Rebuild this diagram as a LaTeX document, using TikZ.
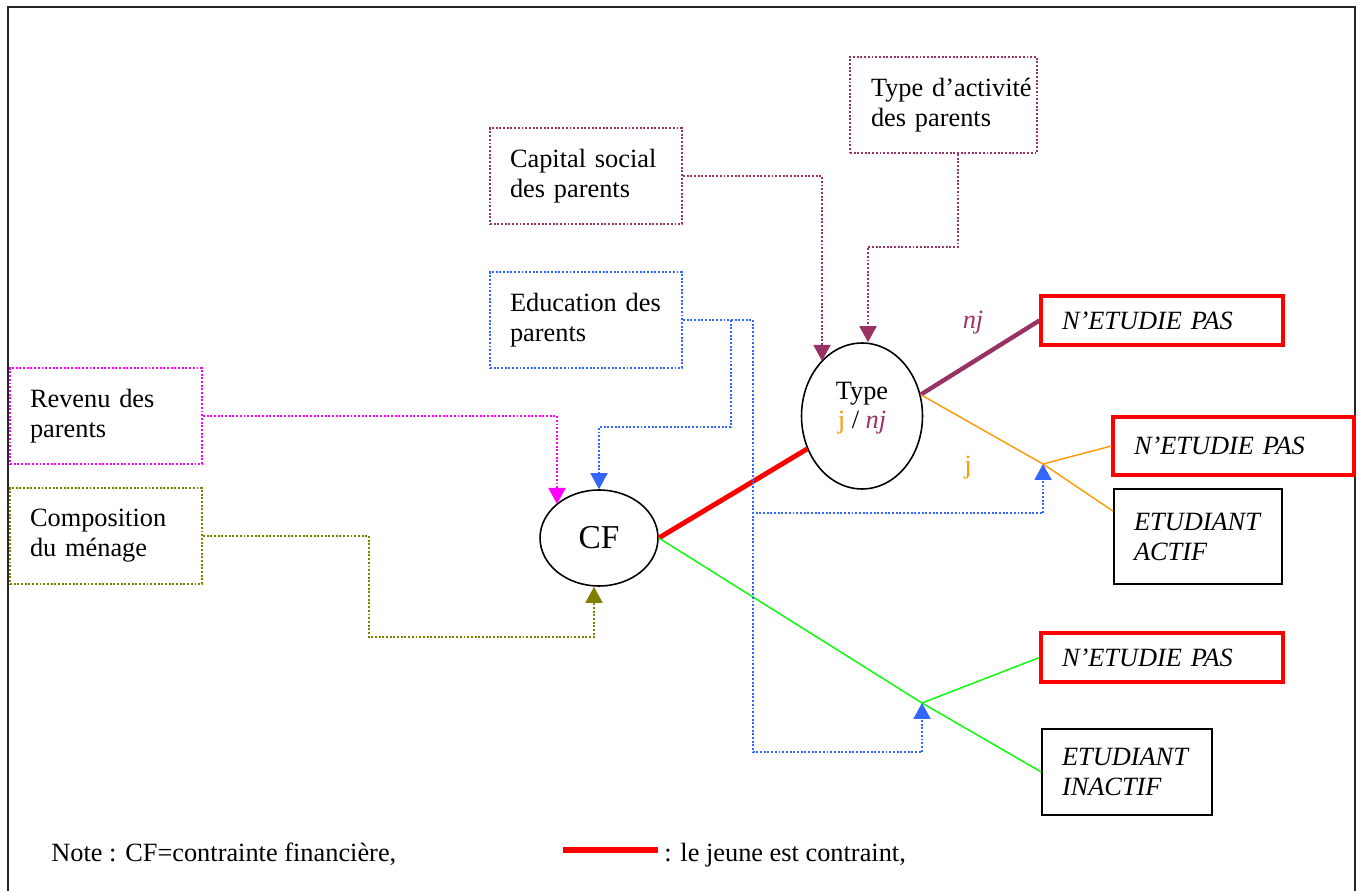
\documentclass[tikz,border=0pt]{standalone}
\usepackage{fontspec}
\setmainfont{Liberation Serif}
\usetikzlibrary{arrows.meta,shapes.geometric,calc}
\definecolor{plum}{HTML}{993366}
\definecolor{azure}{HTML}{3366FF}
\definecolor{fuchsia}{HTML}{FF00FF}
\definecolor{olivine}{HTML}{808000}
\definecolor{amber}{HTML}{FF9900}
\definecolor{brgreen}{HTML}{00FF00}

\begin{document}
\begin{tikzpicture}[x=0.02cm, y=-0.02cm,
  font=\fontsize{15}{17}\selectfont,
  box/.style={draw, densely dotted, line width=1.1pt, align=left, inner xsep=0.4cm, minimum height=1.92cm},
  outc/.style={draw, line width=0.9pt, align=left, inner xsep=0.42cm, font=\fontsize{15}{17}\selectfont\itshape},
  nopas/.style={outc, draw=red, line width=1.8pt, minimum height=0.98cm},
  bubble/.style={draw, ellipse, line width=0.9pt, inner sep=0pt},
  link/.style={densely dotted, line width=1.1pt, -{Triangle[width=0.34cm,length=0.32cm]}},
  twig/.style={line width=0.8pt}
]
\useasboundingbox (0,0) rectangle (1360,891);
\draw[line width=1pt, black!85] (8,891) |- (1355,7) -- (1355,891);

% parents' characteristics
\node[box, draw=plum, text width=3.04cm] (cap) at (586,176) {Capital social\\des parents};
\node[box, draw=plum, inner xsep=0.42cm, text width=2.9cm] (act) at (943.5,105) {Type~d’activité\\des parents};
\node[box, draw=azure, text width=3.04cm] (edu) at (586,320) {Education des\\parents};
\node[box, draw=fuchsia, text width=3.04cm] (rev) at (106,416) {Revenu des\\parents};
\node[box, draw=olivine, text width=3.04cm] (comp) at (106,536) {Composition\\du ménage};

% decision nodes
\node[bubble, minimum width=2.36cm, minimum height=1.92cm, font=\fontsize{19}{22}\selectfont] (cf) at (599,538) {CF};
\node[bubble, minimum width=2.42cm, minimum height=2.92cm] (type) at (862,416)
  {\raisebox{0.16cm}[\height][\depth]{\begin{tabular}{@{}c@{}}Type\\{\color{amber}j} / {\color{plum}\itshape nj}\end{tabular}}};

% outcomes
\node[nopas, text width=4.0cm] (ne1) at (1162,320.5) {N’ETUDIE PAS};
\node[nopas, text width=3.98cm, minimum height=1.16cm] (ne2) at (1233.5,446) {N’ETUDIE PAS};
\node[outc, inner xsep=0.4cm, text width=2.56cm, minimum height=1.9cm] (ea) at (1198,536.5) {ETUDIANT\\ACTIF};
\node[nopas, text width=4.0cm] (ne3) at (1162,657.5) {N’ETUDIE PAS};
\node[outc, inner xsep=0.4cm, text width=2.6cm, minimum height=1.72cm] (ei) at (1127,772) {ETUDIANT\\INACTIF};

\coordinate (j1) at (1043,464);
\coordinate (j2) at (922,703);

% branches
\draw[red, line width=2.8pt] (cf.east) -- (type);
\draw[plum, line width=2.5pt] (type.20) -- (ne1.west);
\draw[amber, twig] (type.20) -- (j1) -- (ne2.west);
\draw[amber, twig] (j1) -- ($(ea.north west)+(0,23)$);
\draw[brgreen, twig] (cf.east) -- (j2) -- (ne3.west);
\draw[brgreen, twig] (j2) -- (ei.west);
\node[text=plum, font=\fontsize{15}{17}\selectfont\itshape] (lblnj) at (973,323) {nj};
\node[text=amber] (lblj) at (968,468) {j};

% influences
\draw[link, plum] (cap.east) -| ($(type.center)+(-40,-55)$);
\draw[link, plum] ([xshift=0.29cm]act.south) -- ++(0,93) -| ([xshift=0.12cm]type.north);
\draw[link, azure] (edu.east) -| ++(48,107) -| (cf.north);
\draw[link, azure] (edu.east) -| ++(70,193) -| (j1);
\draw[link, azure] (edu.east) -| ++(70,432) -| (j2);
\draw[link, fuchsia] (rev.east) -| ($(cf.center)+(-42,-34)$);
\draw[link, olivine] (comp.east) -| ++(166,101) -| ([xshift=-0.1cm]cf.south);

% note
\node[anchor=base west, inner sep=0pt] (note) at (51,862) {Note : CF=contrainte financière,};
\node[anchor=base west, inner sep=0pt] (legend) at (664,862) {: le jeune est contraint,};
\draw[red, line width=3.4pt] ([xshift=-0.12cm,yshift=0.12cm]legend.west) -- ++(-95,0);
\end{tikzpicture}
\end{document}
